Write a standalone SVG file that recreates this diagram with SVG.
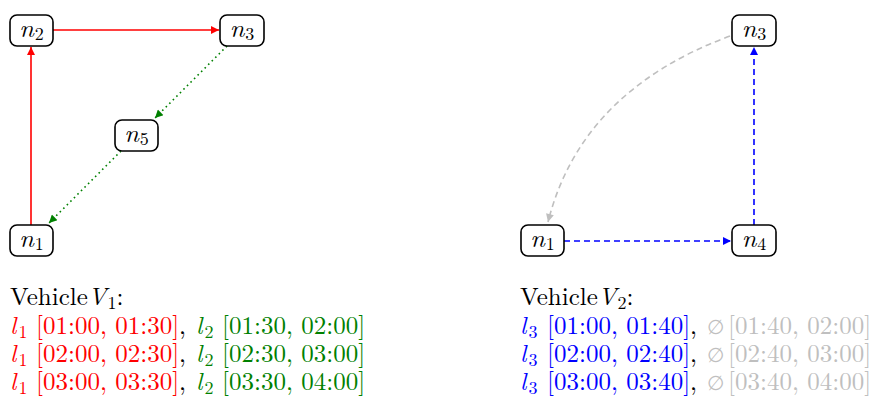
<svg xmlns="http://www.w3.org/2000/svg" width="872" height="403" viewBox="0 0 872 403">
<style>
.box{fill:#fff;stroke:#000;stroke-width:1.6}
.nt{font-family:"Latin Modern Roman","Liberation Serif",serif;font-size:26px;text-anchor:middle;fill:#000}
.it{font-style:italic}
.sub{font-size:18px}
.tx{font-family:"Latin Modern Roman","Liberation Serif",serif;font-size:25px;fill:#000}
.red{fill:#ff0000}.green{fill:#008000}.blue{fill:#0000ff}.gray{fill:#bfbfbf}
.es{font-size:20px}
.e{fill:none;stroke-width:1.6}
</style>
<defs>
<marker id="ar" viewBox="0 0 10 10" refX="10" refY="5" markerWidth="10" markerHeight="8" markerUnits="userSpaceOnUse" orient="auto"><path d="M0,0 L10,5 L0,10 z" fill="#ff0000"/></marker>
<marker id="ag" viewBox="0 0 10 10" refX="10" refY="5" markerWidth="10" markerHeight="8" markerUnits="userSpaceOnUse" orient="auto"><path d="M0,0 L10,5 L0,10 z" fill="#008000"/></marker>
<marker id="ab" viewBox="0 0 10 10" refX="10" refY="5" markerWidth="10" markerHeight="8" markerUnits="userSpaceOnUse" orient="auto"><path d="M0,0 L10,5 L0,10 z" fill="#0000ff"/></marker>
<marker id="ay" viewBox="0 0 10 10" refX="10" refY="5" markerWidth="10" markerHeight="8" markerUnits="userSpaceOnUse" orient="auto"><path d="M0,0 L10,5 L0,10 z" fill="#bfbfbf"/></marker>
</defs>
<g id="connectors">
<line class="e" x1="31" y1="225" x2="31" y2="47" stroke="#ff0000" marker-end="url(#ar)"/>
<line class="e" x1="53" y1="30" x2="219" y2="30" stroke="#ff0000" marker-end="url(#ar)"/>
<line class="e" x1="227" y1="46" x2="155" y2="118" stroke="#008000" stroke-dasharray="1.6 3.4" marker-end="url(#ag)"/>
<line class="e" x1="121" y1="151" x2="49" y2="223" stroke="#008000" stroke-dasharray="1.6 3.4" marker-end="url(#ag)"/>
<line class="e" x1="564" y1="241" x2="731" y2="241" stroke="#0000ff" stroke-dasharray="6 4" marker-end="url(#ab)"/>
<line class="e" x1="754" y1="225" x2="754" y2="47" stroke="#0000ff" stroke-dasharray="6 4" marker-end="url(#ab)"/>
<path class="e" d="M730,36 Q581,91 548,222" stroke="#bfbfbf" stroke-dasharray="6 4" marker-end="url(#ay)"/>
</g>
<g id="v1-n2"><rect class="box" x="10" y="15" width="43" height="31" rx="7"/><text class="nt" x="31.5" y="37"><tspan class="it">n</tspan><tspan class="sub" dx="1" dy="3">2</tspan></text></g>
<g id="v1-n3"><rect class="box" x="220" y="15" width="44" height="31" rx="7"/><text class="nt" x="242" y="37"><tspan class="it">n</tspan><tspan class="sub" dx="1" dy="3">3</tspan></text></g>
<g id="v1-n5"><rect class="box" x="115" y="120" width="43" height="31" rx="7"/><text class="nt" x="136.5" y="142"><tspan class="it">n</tspan><tspan class="sub" dx="1" dy="3">5</tspan></text></g>
<g id="v1-n1"><rect class="box" x="10" y="225" width="43" height="31" rx="7"/><text class="nt" x="31.5" y="247"><tspan class="it">n</tspan><tspan class="sub" dx="1" dy="3">1</tspan></text></g>
<g id="v2-n3"><rect class="box" x="732" y="15" width="44" height="31" rx="7"/><text class="nt" x="754" y="37"><tspan class="it">n</tspan><tspan class="sub" dx="1" dy="3">3</tspan></text></g>
<g id="v2-n1"><rect class="box" x="521" y="225" width="43" height="31" rx="7"/><text class="nt" x="542.5" y="247"><tspan class="it">n</tspan><tspan class="sub" dx="1" dy="3">1</tspan></text></g>
<g id="v2-n4"><rect class="box" x="732" y="225" width="44" height="31" rx="7"/><text class="nt" x="754" y="247"><tspan class="it">n</tspan><tspan class="sub" dx="1" dy="3">4</tspan></text></g>
<g id="label-v1">
<text class="tx" x="10" y="305">Vehicle<tspan class="it" x="88">V</tspan><tspan class="sub" dx="1" dy="4">1</tspan><tspan dy="-4">:</tspan></text>
<text class="tx" x="10" y="334"><tspan class="red it">l</tspan><tspan class="red sub" dx="2" dy="4">1</tspan><tspan class="red" x="36" dy="-4">[01:00, 01:30]</tspan>,<tspan class="green it" x="196">l</tspan><tspan class="green sub" dx="2" dy="4">2</tspan><tspan class="green" x="222" dy="-4">[01:30, 02:00]</tspan></text>
<text class="tx" x="10" y="362"><tspan class="red it">l</tspan><tspan class="red sub" dx="2" dy="4">1</tspan><tspan class="red" x="36" dy="-4">[02:00, 02:30]</tspan>,<tspan class="green it" x="196">l</tspan><tspan class="green sub" dx="2" dy="4">2</tspan><tspan class="green" x="222" dy="-4">[02:30, 03:00]</tspan></text>
<text class="tx" x="10" y="390"><tspan class="red it">l</tspan><tspan class="red sub" dx="2" dy="4">1</tspan><tspan class="red" x="36" dy="-4">[03:00, 03:30]</tspan>,<tspan class="green it" x="196">l</tspan><tspan class="green sub" dx="2" dy="4">2</tspan><tspan class="green" x="222" dy="-4">[03:30, 04:00]</tspan></text>
</g>
<g id="label-v2">
<text class="tx" x="520" y="305">Vehicle<tspan class="it" x="598">V</tspan><tspan class="sub" dx="1" dy="4">2</tspan><tspan dy="-4">:</tspan></text>
<text class="tx" x="520" y="334"><tspan class="blue it">l</tspan><tspan class="blue sub" dx="2" dy="4">3</tspan><tspan class="blue" x="547" dy="-4">[01:00, 01:40]</tspan>,<tspan class="gray es" x="707">∅</tspan><tspan class="gray" x="728">[01:40, 02:00]</tspan></text>
<text class="tx" x="520" y="362"><tspan class="blue it">l</tspan><tspan class="blue sub" dx="2" dy="4">3</tspan><tspan class="blue" x="547" dy="-4">[02:00, 02:40]</tspan>,<tspan class="gray es" x="707">∅</tspan><tspan class="gray" x="728">[02:40, 03:00]</tspan></text>
<text class="tx" x="520" y="390"><tspan class="blue it">l</tspan><tspan class="blue sub" dx="2" dy="4">3</tspan><tspan class="blue" x="547" dy="-4">[03:00, 03:40]</tspan>,<tspan class="gray es" x="707">∅</tspan><tspan class="gray" x="728">[03:40, 04:00]</tspan></text>
</g>
</svg>
